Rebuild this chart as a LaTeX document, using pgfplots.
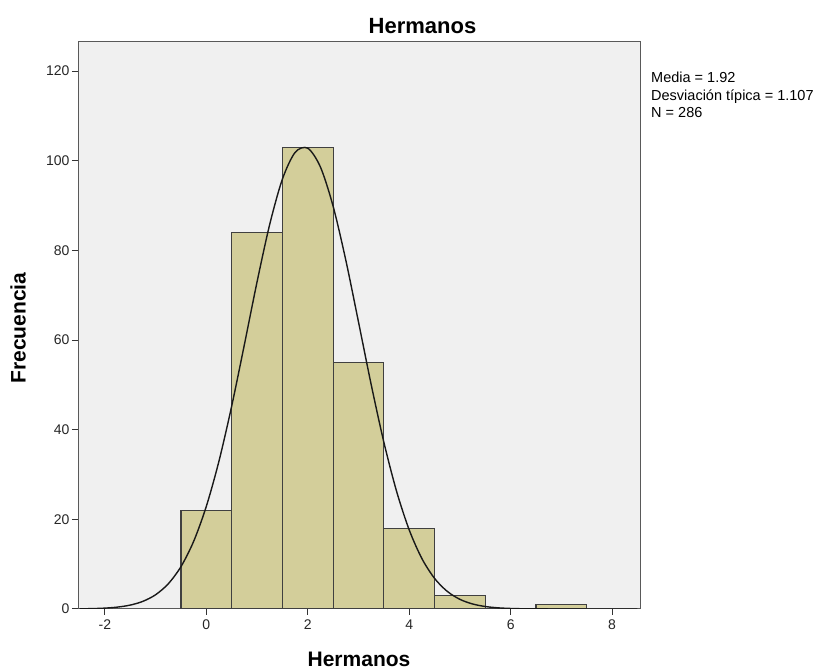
\documentclass[border=0pt]{standalone}
\usepackage{pgfplots}
\pgfplotsset{compat=1.18}
\usepackage{fontspec}
\setmainfont{Liberation Sans}
\definecolor{barfill}{HTML}{D3CE9A}
\definecolor{bgc}{HTML}{F0F0F0}
\begin{document}
\begin{tikzpicture}[x=1pt,y=1pt]
\useasboundingbox (0,0) rectangle (820,669);
\begin{axis}[
  at={(78pt,60pt)}, anchor=south west,
  scale only axis, width=562pt, height=567pt,
  xmin=-2.53, xmax=8.55, ymin=0, ymax=126.5,
  axis background/.style={fill=bgc},
  axis line style={black!65, line width=1pt},
  xtick={-2,0,2,4,6,8}, ytick={0,20,40,60,80,100,120},
  xtick pos=bottom, ytick pos=left,
  tick align=outside, major tick length=6pt,
  tick style={black!80, line width=1pt},
  /pgf/number format/assume math mode=true,
  ticklabel style={font=\fontsize{14}{16}\selectfont, text=black!85},
  yticklabel style={xshift=1pt},
  xticklabel style={yshift=-1pt},
  clip=true,
]
\addplot[ybar interval, fill=barfill, draw=black!75, line width=1.1pt] coordinates {
(-0.5,22) (0.5,84) (1.5,103) (2.5,55) (3.5,18) (4.5,3) (5.5,0) (6.5,1) (7.5,0)
};
\addplot[black!90, line width=1.4pt, smooth, mark=none] coordinates {
(-2.5,0.036) (-2.25,0.0855) (-2.0,0.195) (-1.75,0.423) (-1.5,0.872) (-1.25,1.708) (-1.0,3.18)
(-0.75,5.62) (-0.5,9.45) (-0.25,15.09)
(0,22.90) (0.25,33.03) (0.5,45.27) (0.75,58.97) (1.0,72.97) (1.25,85.82) (1.5,95.91)
(1.75,101.86) (2.0,102.80) (2.25,98.59) (2.5,89.85) (2.75,77.82) (3.0,64.04)
(3.25,50.08) (3.5,37.22) (3.75,26.29) (4.0,17.64) (4.25,11.25) (4.5,6.82) (4.75,3.93)
(5.0,2.15) (5.25,1.117) (5.5,0.552) (5.75,0.259) (6.0,0.116) (6.25,0.049) (6.5,0.0198)
(7.0,0.0026) (7.5,0.0003) (8.5,0)
};
\end{axis}
\node[font=\bfseries\fontsize{22}{24}\selectfont] at (422.5,643) {Hermanos};
\node[font=\bfseries\fontsize{21}{23}\selectfont] at (359,10) {Hermanos};
\node[font=\bfseries\fontsize{21}{23}\selectfont, rotate=90] at (18,341) {Frecuencia};
\node[anchor=base west, align=left, font=\fontsize{14.5}{17.5}\selectfont, inner sep=0pt] at (651,586)
  {Media = 1.92};
\node[anchor=base west, font=\fontsize{14.5}{17.5}\selectfont, inner sep=0pt] at (651,568.5)
  {Desviación típica = 1.107};
\node[anchor=base west, font=\fontsize{14.5}{17.5}\selectfont, inner sep=0pt] at (651,551)
  {N = 286};
\end{tikzpicture}
\end{document}
